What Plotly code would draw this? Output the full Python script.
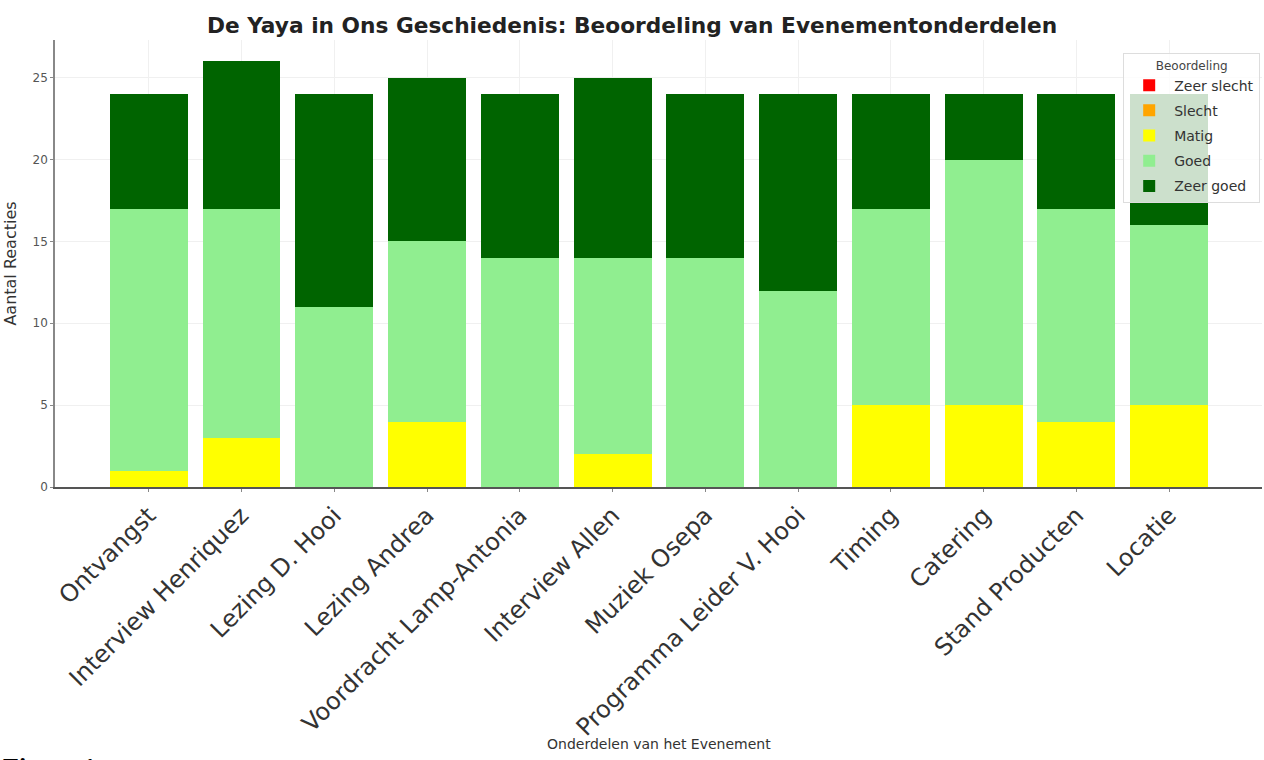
import plotly.graph_objects as go

categories = ["Ontvangst", "Interview Henriquez", "Lezing D. Hooi", "Lezing Andrea",
              "Voordracht Lamp-Antonia", "Interview Allen", "Muziek Osepa",
              "Programma Leider V. Hooi", "Timing", "Catering", "Stand Producten", "Locatie"]
zeer_slecht = [0, 0, 0, 0, 0, 0, 0, 0, 0, 0, 0, 0]
slecht = [0, 0, 0, 0, 0, 0, 0, 0, 0, 0, 0, 0]
matig = [1, 3, 0, 4, 0, 2, 0, 0, 5, 5, 4, 5]
goed = [16, 14, 11, 11, 14, 12, 14, 12, 12, 15, 13, 11]
zeer_goed = [7, 9, 13, 10, 10, 11, 10, 12, 7, 4, 7, 8]

series = [("Zeer slecht", zeer_slecht, "#ff0000"),
          ("Slecht", slecht, "#ffa500"),
          ("Matig", matig, "#ffff00"),
          ("Goed", goed, "#90ee90"),
          ("Zeer goed", zeer_goed, "#006400")]

fig = go.Figure()
for name, vals, col in series:
    fig.add_trace(go.Bar(x=list(range(len(categories))), y=vals, name=name, legendgroup=name,
                         marker=dict(color=col, line=dict(width=0)), width=0.84))

fig.update_layout(
    barmode="stack",
    width=1264, height=760,
    margin=dict(l=55, r=2, t=40, b=273),
    paper_bgcolor="white", plot_bgcolor="white",
    font=dict(family="DejaVu Sans", color="#333333"),
    title=dict(text="<b>De Yaya in Ons Geschiedenis: Beoordeling van Evenementonderdelen</b>",
               x=0.5, xanchor="center", y=0.967, yanchor="middle",
               font=dict(size=21.7, color="#222222", family="DejaVu Sans")),
    xaxis=dict(tickmode="array", tickvals=list(range(len(categories))), ticktext=categories,
               tickangle=-45, range=[-1.01, 12.0], showgrid=True, gridcolor="#f0f0f0",
               showline=True, linecolor="#555555", linewidth=1.5, ticks="outside",
               ticklen=3, tickcolor="#888888", tickfont=dict(size=24, color="#333333"),
               automargin=False),
    yaxis=dict(range=[0, 27.3], tickvals=[0, 5, 10, 15, 20, 25], showgrid=True,
               gridcolor="#f0f0f0", showline=True, linecolor="#888888", linewidth=1.5,
               ticks="outside", ticklen=3, tickcolor="#888888", zeroline=False,
               tickfont=dict(size=12, color="#555555"), automargin=False,
               title=dict(text="Aantal Reacties", font=dict(size=16, color="#333333"), standoff=12)),
    legend=dict(title=dict(text="Beoordeling", side="top center", font=dict(size=12, color="#444444")),
                x=0.9985, xanchor="right", y=0.971, yanchor="top",
                bgcolor="rgba(255,255,255,0.8)", bordercolor="#dddddd", borderwidth=1,
                font=dict(size=14, color="#333333"), traceorder="grouped",
                itemsizing="constant", tracegroupgap=4, itemwidth=40),
)
fig.add_annotation(text="Onderdelen van het Evenement", xref="paper", yref="paper",
                   x=0.5, y=-0.575, xanchor="center", yanchor="middle", showarrow=False,
                   font=dict(size=14, color="#333333"))
fig.add_annotation(text="<b>Figure 1</b>", xref="paper", yref="paper", x=-0.045, y=-0.59,
                   xanchor="left", yanchor="top", showarrow=False,
                   font=dict(family="Liberation Serif", size=26, color="#000000"))

fig.write_html("out.html", config={"displayModeBar": False},
               post_script="document.body.style.margin='0';document.body.style.overflow='hidden';")
